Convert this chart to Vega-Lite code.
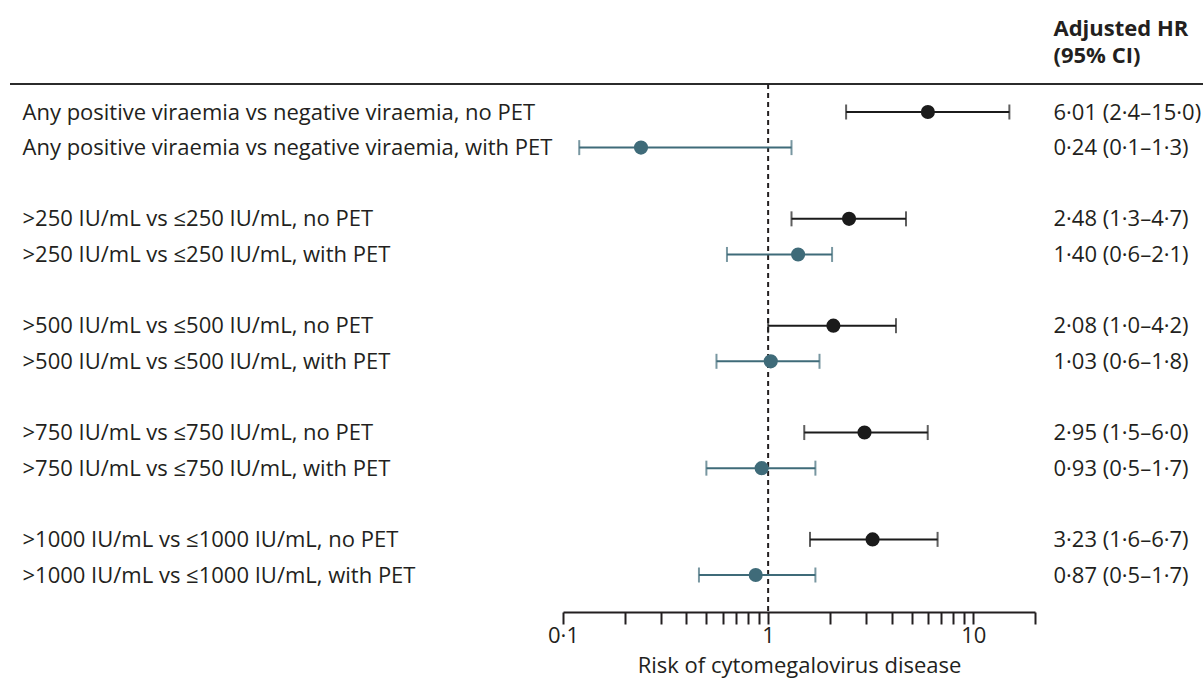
{
  "$schema": "https://vega.github.io/schema/vega-lite/v6.json",
  "width": 1193,
  "height": 528,
  "autosize": "none",
  "padding": {"left": 10, "top": 84, "right": 0, "bottom": 76},
  "background": "white",
  "config": {
    "font": "Open Sans",
    "view": {"stroke": "#2b2b2b", "strokeWidth": 2, "strokeDash": [1193, 4000]},
    "axis": {
      "labelFont": "Open Sans",
      "titleFont": "Open Sans",
      "labelFontSize": 22,
      "titleFontSize": 22,
      "labelColor": "#231f20",
      "titleColor": "#231f20",
      "titleFontWeight": "normal"
    }
  },
  "data": {
    "values": [
      {"label": "Any positive viraemia vs negative viraemia, no PET", "pet": "no PET", "hr": 6.01, "lo": 2.4, "hi": 15.0, "hr_text": "6·01 (2·4–15·0)"},
      {"label": "Any positive viraemia vs negative viraemia, with PET", "pet": "with PET", "hr": 0.24, "lo": 0.12, "hi": 1.3, "hr_text": "0·24 (0·1–1·3)"},
      {"label": ">250 IU/mL vs ≤250 IU/mL, no PET", "pet": "no PET", "hr": 2.48, "lo": 1.3, "hi": 4.7, "hr_text": "2·48 (1·3–4·7)"},
      {"label": ">250 IU/mL vs ≤250 IU/mL, with PET", "pet": "with PET", "hr": 1.40, "lo": 0.63, "hi": 2.05, "hr_text": "1·40 (0·6–2·1)"},
      {"label": ">500 IU/mL vs ≤500 IU/mL, no PET", "pet": "no PET", "hr": 2.08, "lo": 1.0, "hi": 4.2, "hr_text": "2·08 (1·0–4·2)"},
      {"label": ">500 IU/mL vs ≤500 IU/mL, with PET", "pet": "with PET", "hr": 1.03, "lo": 0.56, "hi": 1.78, "hr_text": "1·03 (0·6–1·8)"},
      {"label": ">750 IU/mL vs ≤750 IU/mL, no PET", "pet": "no PET", "hr": 2.95, "lo": 1.5, "hi": 6.0, "hr_text": "2·95 (1·5–6·0)"},
      {"label": ">750 IU/mL vs ≤750 IU/mL, with PET", "pet": "with PET", "hr": 0.93, "lo": 0.5, "hi": 1.7, "hr_text": "0·93 (0·5–1·7)"},
      {"label": ">1000 IU/mL vs ≤1000 IU/mL, no PET", "pet": "no PET", "hr": 3.23, "lo": 1.6, "hi": 6.7, "hr_text": "3·23 (1·6–6·7)"},
      {"label": ">1000 IU/mL vs ≤1000 IU/mL, with PET", "pet": "with PET", "hr": 0.87, "lo": 0.46, "hi": 1.7, "hr_text": "0·87 (0·5–1·7)"}
    ]
  },
  "layer": [
    {
      "layer": [
        {
          "data": {"values": [{"ref": 1}]},
          "mark": {"type": "rule", "strokeDash": [5, 4], "strokeWidth": 2, "color": "#231f20"},
          "encoding": {
            "x": {
              "field": "ref",
              "type": "quantitative",
              "scale": {"type": "log", "domain": [0.1, 20], "nice": false, "range": [553, 1025]},
              "axis": {
                "values": [0.1, 0.2, 0.3, 0.4, 0.5, 0.6, 0.7, 0.8, 0.9, 1, 2, 3, 4, 5, 6, 7, 8, 9, 10, 20],
                "labelExpr": "datum.value == 0.1 ? '0·1' : (datum.value == 1 ? '1' : (datum.value == 10 ? '10' : ''))",
                "grid": false,
                "tickSize": 12,
                "tickWidth": 2,
                "tickColor": "#231f20",
                "domainColor": "#231f20",
                "domainWidth": 2,
                "labelPadding": 1,
                "labelFlush": false,
                "labelOverlap": false,
                "title": "Risk of cytomegalovirus disease",
                "titlePadding": 9
              }
            }
          }
        },
        {
          "mark": {"type": "rule", "strokeWidth": 2},
          "encoding": {
            "x": {"field": "lo", "type": "quantitative"},
            "x2": {"field": "hi"},
            "y": {
              "field": "label",
              "type": "nominal",
              "scale": {
                "type": "point",
                "padding": 0,
                "range": [28, 491],
                "domain": [
                  "Any positive viraemia vs negative viraemia, no PET",
                  "Any positive viraemia vs negative viraemia, with PET",
                  " ",
                  ">250 IU/mL vs ≤250 IU/mL, no PET",
                  ">250 IU/mL vs ≤250 IU/mL, with PET",
                  "  ",
                  ">500 IU/mL vs ≤500 IU/mL, no PET",
                  ">500 IU/mL vs ≤500 IU/mL, with PET",
                  "   ",
                  ">750 IU/mL vs ≤750 IU/mL, no PET",
                  ">750 IU/mL vs ≤750 IU/mL, with PET",
                  "    ",
                  ">1000 IU/mL vs ≤1000 IU/mL, no PET",
                  ">1000 IU/mL vs ≤1000 IU/mL, with PET"
                ]
              },
              "axis": {
                "orient": "left",
                "title": null,
                "ticks": false,
                "tickSize": 0,
                "domain": false,
                "labelAlign": "left",
                "labelPadding": -12,
                "labelLimit": 0
              }
            },
            "color": {
              "field": "pet",
              "type": "nominal",
              "scale": {"domain": ["no PET", "with PET"], "range": ["#1b1b1b", "#3f6b79"]},
              "legend": null
            }
          }
        },
        {
          "mark": {"type": "tick", "thickness": 2, "size": 15},
          "encoding": {
            "x": {"field": "lo", "type": "quantitative"},
            "y": {"field": "label", "type": "nominal"},
            "color": {"field": "pet", "type": "nominal", "legend": null}
          }
        },
        {
          "mark": {"type": "tick", "thickness": 2, "size": 15},
          "encoding": {
            "x": {"field": "hi", "type": "quantitative"},
            "y": {"field": "label", "type": "nominal"},
            "color": {"field": "pet", "type": "nominal", "legend": null}
          }
        },
        {
          "mark": {"type": "circle", "size": 200, "opacity": 1},
          "encoding": {
            "x": {"field": "hr", "type": "quantitative"},
            "y": {"field": "label", "type": "nominal"},
            "color": {"field": "pet", "type": "nominal", "legend": null}
          }
        }
      ]
    },
    {
      "mark": {"type": "point", "opacity": 0},
      "encoding": {
        "y": {
          "field": "hr_text",
          "type": "nominal",
          "scale": {
            "type": "point",
            "padding": 0,
            "range": [28, 491],
            "domain": [
              "6·01 (2·4–15·0)",
              "0·24 (0·1–1·3)",
              " ",
              "2·48 (1·3–4·7)",
              "1·40 (0·6–2·1)",
              "  ",
              "2·08 (1·0–4·2)",
              "1·03 (0·6–1·8)",
              "   ",
              "2·95 (1·5–6·0)",
              "0·93 (0·5–1·7)",
              "    ",
              "3·23 (1·6–6·7)",
              "0·87 (0·5–1·7)"
            ]
          },
          "axis": {
            "orient": "right",
            "ticks": false,
            "tickSize": 0,
            "domain": false,
            "labelAlign": "left",
            "labelPadding": -150,
            "labelLimit": 0,
            "title": ["Adjusted HR", "(95% CI)"],
            "titleFontWeight": "bold",
            "titleAngle": 0,
            "titleAlign": "left",
            "titleBaseline": "alphabetic",
            "titleLineHeight": 27,
            "titleX": -150,
            "titleY": -49
          }
        }
      }
    }
  ],
  "resolve": {"scale": {"y": "independent"}, "axis": {"y": "independent"}}
}
